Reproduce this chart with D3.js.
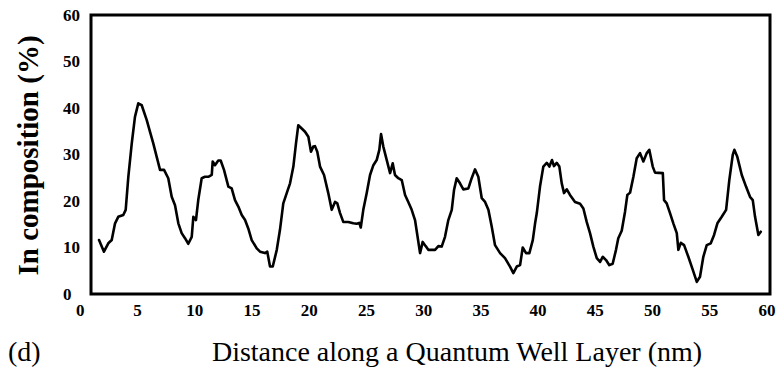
<!DOCTYPE html>
<html>
<head>
<meta charset="utf-8">
<script src="https://cdn.jsdelivr.net/npm/d3@7"></script>
<style>
  html, body { margin: 0; padding: 0; background: #fff; }
  svg { display: block; }
</style>
</head>
<body>
<svg id="chart" width="784" height="374"></svg>
<script>
// ---- data ----
const distance = [1.68,2.11,2.49,2.79,3.08,3.36,3.80,4.01,4.24,4.54,4.82,5.11,5.41,5.85,6.13,6.42,6.72,7.01,7.36,7.73,
8.03,8.32,8.61,8.90,9.19,9.48,9.78,9.92,10.15,10.35,10.65,10.94,11.23,11.53,11.61,11.81,12.10,12.31,12.60,12.98,
13.27,13.56,13.85,14.15,14.44,14.72,15.02,15.46,15.75,16.18,16.38,16.62,16.86,17.21,17.49,17.78,18.08,18.37,18.66,18.89,
19.09,19.39,19.68,19.97,20.20,20.40,20.55,20.75,20.99,21.34,21.71,22.01,22.30,22.50,22.74,23.02,23.46,23.90,24.20,24.42,
24.55,24.77,25.07,25.36,25.65,25.94,26.17,26.32,26.52,26.82,27.11,27.34,27.54,27.83,28.13,28.42,28.70,29.00,29.29,29.49,
29.73,29.96,30.16,30.25,30.45,31.04,31.33,31.62,31.91,32.20,32.50,32.70,32.93,33.22,33.51,33.95,34.24,34.53,34.82,35.12,
35.41,35.70,35.99,36.28,36.72,37.15,37.59,37.88,38.18,38.47,38.70,38.99,39.28,39.58,39.78,39.93,40.21,40.50,40.80,41.03,
41.26,41.43,41.67,41.90,42.11,42.31,42.55,42.83,43.27,43.71,44.00,44.29,44.58,44.87,45.17,45.46,45.69,45.98,46.27,46.56,
46.85,47.05,47.35,47.64,47.84,48.08,48.37,48.66,48.95,49.24,49.54,49.76,50.06,50.26,50.94,51.05,51.28,51.57,51.86,52.16,
52.30,52.51,52.80,53.17,53.56,53.91,54.19,54.48,54.78,55.13,55.42,55.71,56.09,56.47,56.75,57.05,57.19,57.45,57.84,58.21,
58.56,58.80,59.00,59.29,59.50];
const inComposition = [11.6,9.1,10.9,11.6,15.2,16.6,17.0,18.1,25.2,32.4,38.1,41.0,40.6,37.4,34.9,32.4,29.5,26.7,26.7,24.9,
20.9,19.1,15.2,13.1,12.0,10.8,12.3,16.6,15.9,20.2,24.9,25.2,25.2,25.6,28.5,27.7,28.7,28.7,26.7,23.1,
22.7,20.2,18.8,17.0,15.9,14.1,11.6,9.8,9.1,8.8,9.1,5.9,5.9,9.5,13.8,19.5,21.7,23.8,27.4,32.4,
36.3,35.6,34.9,33.8,30.6,31.7,31.8,30.6,27.4,25.6,21.7,18.1,19.8,19.5,17.4,15.5,15.5,15.2,15.1,15.3,
14.3,18.1,21.7,25.6,27.7,28.8,31.0,34.4,31.7,28.8,26.0,28.1,25.6,24.9,24.5,21.3,19.8,18.1,15.9,12.7,
8.8,11.2,10.5,10.2,9.5,9.5,10.3,10.2,12.3,15.9,18.1,22.4,24.9,23.8,22.5,22.7,24.9,26.8,25.2,20.6,
19.8,18.1,14.5,10.5,8.8,7.7,5.9,4.5,5.9,6.2,10.0,8.8,8.8,11.6,15.2,17.4,23.1,27.4,28.2,27.4,
28.8,27.5,28.2,27.4,23.8,21.7,22.5,21.3,19.8,19.4,18.4,15.5,13.1,10.2,7.7,6.9,8.0,7.3,6.2,6.5,
9.5,12.0,13.6,17.7,21.3,21.8,25.2,29.2,30.3,28.5,30.3,31.0,27.4,26.1,26.0,20.2,19.5,17.4,15.2,13.1,
9.5,11.0,10.5,8.0,5.2,2.6,3.7,8.0,10.5,10.9,12.7,15.2,16.6,18.1,24.5,29.9,31.0,29.5,25.6,23.1,
20.9,20.2,16.6,12.7,13.4];
const xTicks = [0,5,10,15,20,25,30,35,40,45,50,55,60];
const yTicks = [0,10,20,30,40,50,60];
const xTitle = "Distance along a Quantum Well Layer (nm)";
const yTitle = "In composition (%)";
const panelLabel = "(d)";

// ---- layout ----
const svg = d3.select("#chart");
const frame = {left: 91, right: 770, top: 15, bottom: 294};
const x = d3.scaleLinear().domain([0, 60]).range([79.8, 766.5]);
const y = d3.scaleLinear().domain([0, 60]).range([frame.bottom, frame.top]);
const serif = "'Liberation Serif','Times New Roman',Times,serif";

// frame
svg.append("rect")
  .attr("x", frame.left).attr("y", frame.top)
  .attr("width", frame.right - frame.left).attr("height", frame.bottom - frame.top)
  .attr("fill", "none").attr("stroke", "#000").attr("stroke-width", 3);

// x axis labels
const gx = svg.append("g")
  .attr("transform", `translate(0,${frame.bottom})`)
  .call(d3.axisBottom(x).tickValues(xTicks).tickSize(0).tickPadding(10).tickFormat(d3.format("d")));
gx.select(".domain").remove();
gx.attr("font-family", serif);
gx.selectAll("text").attr("font-family", serif).attr("font-weight", "bold")
  .attr("font-size", 17).attr("fill", "#000");

// y axis labels (left aligned as in the reference)
const gy = svg.append("g")
  .attr("transform", `translate(63,0)`)
  .call(d3.axisLeft(y).tickValues(yTicks).tickSize(0).tickPadding(0).tickFormat(d3.format("d")));
gy.select(".domain").remove();
gy.attr("font-family", serif);
gy.selectAll("text").attr("font-family", serif).attr("font-weight", "bold")
  .attr("font-size", 17).attr("fill", "#000").attr("text-anchor", "start").attr("x", 0);

// curve
const pts = distance.map((d, i) => [d, inComposition[i]]);
svg.append("path")
  .datum(pts)
  .attr("fill", "none").attr("stroke", "#000").attr("stroke-width", 2.6)
  .attr("stroke-linejoin", "round").attr("stroke-linecap", "round")
  .attr("d", d3.line().x(d => x(d[0])).y(d => y(d[1])));

// titles
svg.append("text")
  .attr("transform", `translate(38,${(frame.top + frame.bottom) / 2 + 1}) rotate(-90)`)
  .attr("text-anchor", "middle")
  .attr("font-family", serif).attr("font-weight", "bold").attr("font-size", 29)
  .attr("fill", "#000").text(yTitle);

svg.append("text")
  .attr("x", 457).attr("y", 361).attr("text-anchor", "middle")
  .attr("font-family", serif).attr("font-size", 28).attr("fill", "#000").text(xTitle);

svg.append("text")
  .attr("x", 8).attr("y", 361)
  .attr("font-family", serif).attr("font-size", 28).attr("fill", "#000").text(panelLabel);
</script>
</body>
</html>
